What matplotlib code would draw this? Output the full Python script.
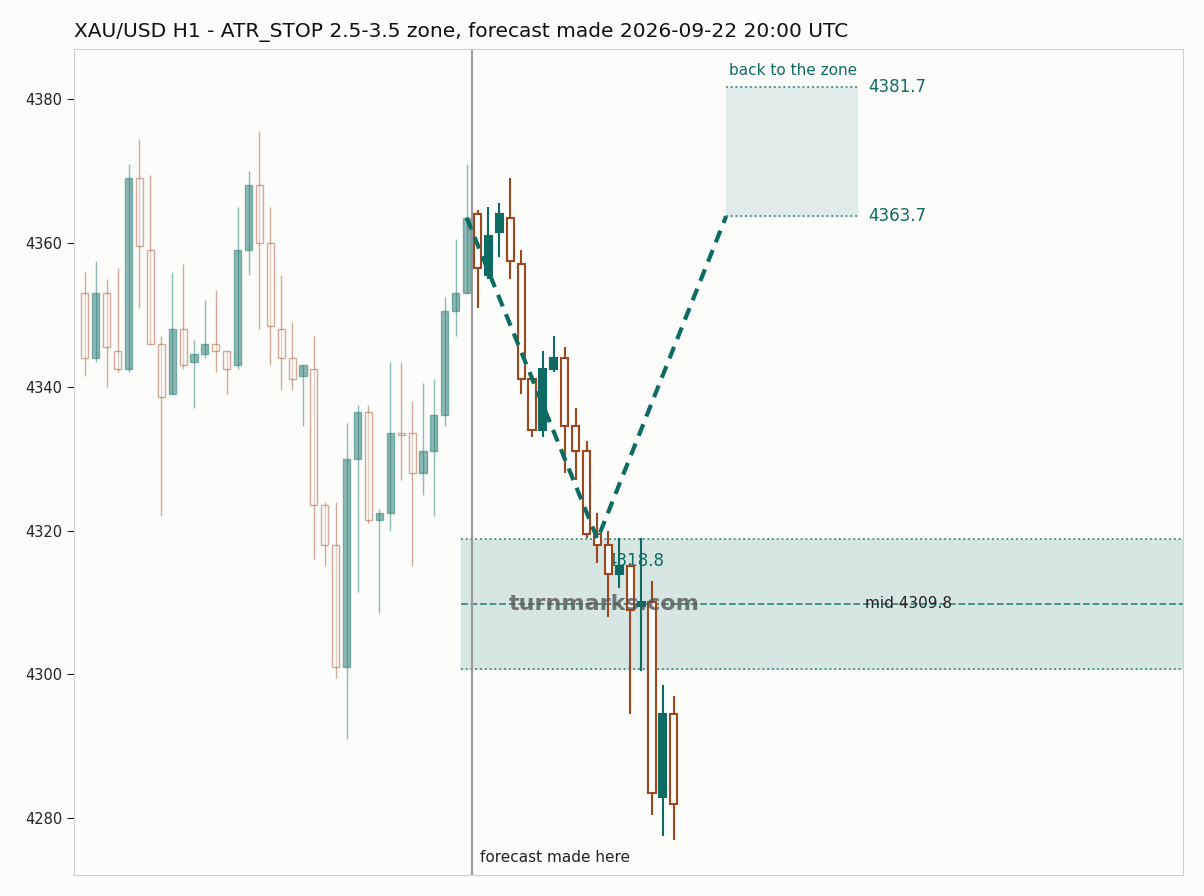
import matplotlib.pyplot as plt

# past candles: open, close, high, low
past_open = [4353, 4344, 4353, 4345, 4342.5, 4369, 4359, 4346, 4339, 4348, 4343.5, 4344.5,
             4346, 4345, 4343, 4359, 4368, 4360, 4348, 4344, 4341.5, 4342.5, 4323.5, 4318,
             4301, 4330, 4336.5, 4321.5, 4322.5, 4333.5, 4333.5, 4328, 4331, 4336, 4350.5, 4353]
past_close = [4344, 4353, 4345.5, 4342.5, 4369, 4359.5, 4346, 4338.5, 4348, 4343, 4344.5, 4346,
              4345, 4342.5, 4359, 4368, 4360, 4348.5, 4344, 4341, 4343, 4323.5, 4318, 4301,
              4330, 4336.5, 4321.5, 4322.5, 4333.5, 4333.3, 4328, 4331, 4336, 4350.5, 4353, 4363.5]
past_high = [4356, 4357.5, 4355, 4356.5, 4371, 4374.5, 4369.5, 4347, 4356, 4357, 4346.5, 4352,
             4353.5, 4345, 4365, 4370, 4375.5, 4365, 4355.5, 4349, 4343, 4347, 4324, 4324,
             4335, 4337.5, 4337.5, 4323, 4343.5, 4343.5, 4338, 4340.5, 4341, 4352.5, 4360.5, 4371]
past_low = [4341.5, 4343.5, 4340, 4342, 4342, 4351, 4346, 4322, 4339, 4342.5, 4337, 4344,
            4342, 4339, 4342.5, 4355.5, 4348, 4343, 4339.5, 4339.5, 4334.5, 4316, 4315, 4299.5,
            4291, 4311.5, 4321, 4308.5, 4320, 4327, 4315, 4325, 4322, 4334.5, 4347, 4353]

# candles after the forecast
fut_open = [4364, 4355.5, 4361.5, 4363.5, 4357, 4341, 4334, 4342.5, 4344, 4334.5, 4331, 4319.5,
            4318, 4314, 4315, 4309.5, 4310, 4283, 4294.5]
fut_close = [4356.5, 4361, 4364, 4357.5, 4341, 4334, 4342.5, 4344, 4334.5, 4331, 4319.5, 4318,
             4314, 4315, 4309, 4310, 4283.5, 4294.5, 4282]
fut_high = [4364.5, 4365, 4365.5, 4369, 4359, 4341, 4345, 4347, 4345.5, 4337, 4332.5, 4322.5,
            4320, 4319, 4315.5, 4319, 4313, 4298.5, 4297]
fut_low = [4351, 4355, 4358, 4355, 4339, 4333, 4333, 4342, 4328, 4327, 4319, 4315.5,
           4308, 4312, 4294.5, 4300.5, 4280.5, 4277.5, 4277]

zone_lo, zone_hi, zone_mid = 4300.8, 4318.8, 4309.8
back_lo, back_hi = 4363.7, 4381.7
path_x = [35, 47, 58.8]
path_y = [4363.5, 4318.8, 4363.7]

TEAL = "#0e6b63"
BROWN = "#a0461f"
BG = "#fcfcfa"


def draw_candles(ax, xs, o, c, h, l, alpha, lw):
    for x, op, cl, hi, lo in zip(xs, o, c, h, l):
        up = cl >= op
        col = TEAL if up else BROWN
        ax.vlines(x, lo, hi, color=col, lw=lw, alpha=alpha, zorder=3)
        bot, top = min(op, cl), max(op, cl)
        ht = max(top - bot, 0.3)
        if up:
            ax.bar(x, ht, 0.65, bottom=bot, color=col, edgecolor=col, lw=lw, alpha=alpha, zorder=4)
        else:
            ax.bar(x, ht, 0.65, bottom=bot, color=BG, edgecolor=col, lw=lw, alpha=alpha, zorder=4)


fig = plt.figure(figsize=(12.04, 8.96), dpi=100, facecolor=BG)
ax = fig.add_axes([0.0615, 0.0234, 0.9211, 0.9219], facecolor=BG)

n_past = len(past_open)
draw_candles(ax, range(n_past), past_open, past_close, past_high, past_low, 0.45, 1.0)
draw_candles(ax, range(n_past, n_past + len(fut_open)), fut_open, fut_close, fut_high, fut_low, 1.0, 1.5)

xmax = 100.7
ax.fill_between([34.5, xmax], zone_lo, zone_hi, color="#d5e6e3", zorder=1)
ax.hlines([zone_lo, zone_hi], 34.5, xmax, color="#3f8a82", ls=":", lw=1.3, zorder=2)
ax.hlines(zone_mid, 34.5, xmax, color="#3f8a82", ls="--", lw=1.3, zorder=2)
ax.fill_between([58.8, 70.8], back_lo, back_hi, color="#dfecea", zorder=1)
ax.hlines([back_lo, back_hi], 58.8, 70.8, color="#3f8a82", ls=":", lw=1.3, zorder=2)

ax.plot(path_x, path_y, color=TEAL, ls="--", lw=3, dashes=(3, 2), zorder=5)
ax.axvline(35.5, color="#999999", lw=1.5, zorder=2)

ax.text(71.8, back_hi, "4381.7", color=TEAL, fontsize=12, va="center")
ax.text(71.8, back_lo, "4363.7", color=TEAL, fontsize=12, va="center")
ax.text(70.8, back_hi + 1.2, "back to the zone", color=TEAL, fontsize=11, ha="right", va="bottom")
ax.text(71.5, zone_mid, "mid 4309.8", color="#222222", fontsize=11, va="center")
ax.text(47.8, 4315.8, "4318.8", color=TEAL, fontsize=12, va="center")
ax.text(38.9, zone_mid, "turnmarks.com", color="#555555", alpha=0.8, fontsize=16,
        fontweight="bold", va="center", zorder=6)
ax.text(36.2, 4274.5, "forecast made here", color="#222222", fontsize=11, va="center")

ax.set_xlim(-1, xmax)
ax.set_ylim(4272.1, 4386.95)
ax.set_xticks([])
ax.set_yticks([4280, 4300, 4320, 4340, 4360, 4380])
ax.tick_params(axis="y", labelsize=10.5, colors="#222222", length=5)
for s in ax.spines.values():
    s.set_color("#d0d0d0")
fig.text(0.0615, 0.964, "XAU/USD H1 - ATR_STOP 2.5-3.5 zone, forecast made 2026-09-22 20:00 UTC",
         fontsize=14.5, color="#111111", va="center")

fig.savefig("out.png", dpi=100, facecolor=BG)
